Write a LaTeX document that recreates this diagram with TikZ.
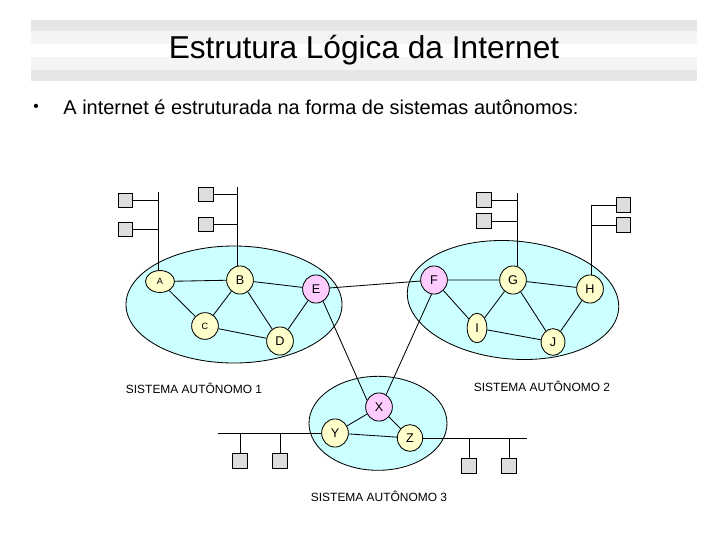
\documentclass[tikz,border=0pt]{standalone}
\usepackage{fontspec}
\setmainfont{Liberation Sans}
\usetikzlibrary{shapes.geometric}
\definecolor{skyfill}{HTML}{CCFFFF}
\definecolor{rtrfill}{HTML}{FFFFCC}
\definecolor{gwfill}{HTML}{FFCCFF}
\definecolor{hostfill}{HTML}{DDDDDD}
\definecolor{bandgray}{HTML}{E6E6E6}
\definecolor{bandlight}{HTML}{F4F4F4}

\begin{document}
\begin{tikzpicture}[x=0.025cm, y=-0.025cm, line width=0.6pt,
    rtr/.style={ellipse, draw, fill=rtrfill, inner sep=0pt, minimum width=19pt, minimum height=20pt, font=\fontsize{9}{9}\selectfont},
    gw/.style={rtr, fill=gwfill},
    host/.style={draw, fill=hostfill, minimum size=10.5pt, inner sep=0pt},
    aslabel/.style={font=\fontsize{8.5}{10}\selectfont}]
    \useasboundingbox (0,0) rectangle (720,540);
    % title band
    \fill [bandgray] (31,20) rectangle (697,31);
    \fill [bandlight] (31,31) rectangle (697,44);
    \fill [bandlight] (31,57) rectangle (697,70);
    \fill [bandgray] (31,70) rectangle (697,81);
    \node (title) at (364,50) {\fontsize{22.5}{26}\selectfont Estrutura Lógica da Internet};
    \node [inner sep=0pt] (dot) at (36,108) {\fontsize{11}{12}\selectfont •};
    \node [anchor=west, inner sep=0pt] (intro) at (63,107) {\fontsize{14.2}{16}\selectfont A internet é estruturada na forma de sistemas autônomos:};
    % the three systems
    \draw [fill=skyfill] (234,304.5) ellipse [x radius=108, y radius=58.5];
    \draw [fill=skyfill, rotate around={-5:(513,300)}] (513,300) ellipse [x radius=106, y radius=59];
    \draw [fill=skyfill] (378,423.3) ellipse [x radius=69, y radius=47];
    % routers
    \node [rtr, minimum width=20.6pt, minimum height=15.6pt, font=\fontsize{6.5}{7}\selectfont] (A) at (160,281.5) {A};
    \node [rtr] (B) at (240,280) {B};
    \node [rtr, minimum width=19pt, minimum height=19pt, font=\fontsize{6.5}{7}\selectfont] (C) at (205,326) {C};
    \node [rtr] (D) at (280,341) {D};
    \node [gw] (E) at (316,289) {E};
    \node [gw] (F) at (434,280) {F};
    \node [rtr] (G) at (513,280) {G};
    \node [rtr] (H) at (590,289) {H};
    \node [rtr, minimum width=14pt, minimum height=21pt] (I) at (477,328) {I};
    \node [rtr, minimum width=17pt, minimum height=19pt] (J) at (553,342) {J};
    \node [gw] (X) at (379,407) {X};
    \node [rtr] (Y) at (335,433) {Y};
    \node [rtr, minimum width=18pt, minimum height=19pt] (Z) at (410,438) {Z};
    % links
    \draw (A) -- (B) -- (E) -- (D) -- (C) -- (A);
    \draw (C) -- (B) -- (D);
    \draw (E) -- (F);
    \draw (F) -- (G) -- (H) -- (J) -- (I) -- (F);
    \draw (I) -- (G) -- (J);
    \draw (E.-60) -- (X.150);
    \draw (F.-100) -- (X.60);
    \draw (Y) -- (X) -- (Z) -- (Y);
    % hosts
    \coordinate (A bus) at (158,192);
    \draw (A bus) -- (A bus |- A.north);
    \node [host] (a1) at (125.5,200.5) {};
    \node [host] (a2) at (125.5,229.5) {};
    \draw (a1) -- (a1 -| A bus);
    \draw (a2) -- (a2 -| A bus);
    \coordinate (B bus) at (237,187);
    \draw (B bus) -- (B bus |- B.north);
    \node [host] (b1) at (206,194.5) {};
    \node [host] (b2) at (206,224.5) {};
    \draw (b1) -- (b1 -| B bus);
    \draw (b2) -- (b2 -| B bus);
    \coordinate (G bus) at (517,193);
    \draw (G bus) -- (G bus |- G.north);
    \node [host] (g1) at (484,200) {};
    \node [host] (g2) at (484,221) {};
    \draw (g1) -- (g1 -| G bus);
    \draw (g2) -- (g2 -| G bus);
    \coordinate (H bus) at (591,206);
    \draw (H bus) -- (H bus |- H.north);
    \node [host] (h1) at (623.5,205) {};
    \node [host] (h2) at (623.5,225) {};
    \draw (h1) -- (h1 -| H bus);
    \draw (h2) -- (h2 -| H bus);
    \coordinate (Y bus) at (218,433);
    \draw (Y bus) -- (Y.west);
    \node [host] (y1) at (240,461) {};
    \node [host] (y2) at (280,461) {};
    \draw (y1) -- (y1 |- Y bus);
    \draw (y2) -- (y2 |- Y bus);
    \coordinate (Z bus) at (527,438);
    \draw (Z.east) -- (Z bus);
    \node [host] (z1) at (469,466) {};
    \node [host] (z2) at (509,466) {};
    \draw (z1) -- (z1 |- Z bus);
    \draw (z2) -- (z2 |- Z bus);
    % labels
    \node [aslabel] (as1) at (194,388) {SISTEMA AUTÔNOMO 1};
    \node [aslabel] (as2) at (542,386) {SISTEMA AUTÔNOMO 2};
    \node [aslabel] (as3) at (379,496) {SISTEMA AUTÔNOMO 3};
\end{tikzpicture}
\end{document}
